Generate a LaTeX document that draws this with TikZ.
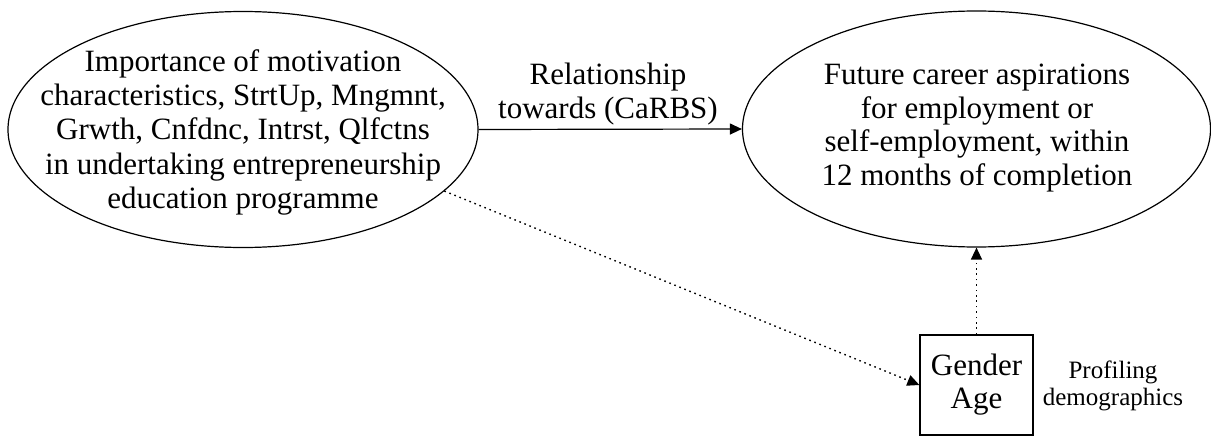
\documentclass[tikz,border=0pt]{standalone}
\usepackage{fontspec}
\setmainfont{Liberation Serif}
\usetikzlibrary{shapes.geometric,arrows.meta}
\begin{document}
\begin{tikzpicture}[x=1pt,y=-1pt,
  oval/.style={draw,ellipse,inner sep=0pt,line width=1.2pt,
    minimum width=470pt,minimum height=236pt},
  ovaltext/.style={align=center,inner sep=0pt},
  boxnode/.style={draw,rectangle,inner sep=0pt,line width=1.3pt,align=center,
    minimum width=113pt,minimum height=100pt,font=\fontsize{31}{33}\selectfont},
  labeltext/.style={align=center,inner sep=0pt},
  tip/.style={-{Triangle[length=12pt,width=11pt]}},
  solidarrow/.style={tip,line width=1.2pt},
  dotarrow/.style={tip,line width=1.4pt,dash pattern=on 1.6pt off 3.8pt}]
\useasboundingbox (0,0) rectangle (1211,436);
\node[oval] (left) at (243,129.5) {};
\node[ovaltext,font=\fontsize{31}{34.3}\selectfont] (lefttext) at (243,132.4) {Importance of motivation\\characteristics, StrtUp, Mngmnt,\\Grwth, Cnfdnc, Intrst, Qlfctns\\in undertaking entrepreneurship\\education programme};
\node[oval,minimum width=468pt] (right) at (976.5,129) {};
\node[ovaltext,font=\fontsize{31}{33.4}\selectfont] (righttext) at (977,128.1) {Future career aspirations\\for employment or\\self-employment, within\\12 months of completion};
\node[boxnode] (box) at (976.5,385) {Gender\\Age};
\node[labeltext,font=\fontsize{31}{34}\selectfont] (rel) at (608,94.2) {Relationship\\towards (CaRBS)};
\node[labeltext,font=\fontsize{25}{27}\selectfont] (prof) at (1113,385.7) {Profiling\\demographics};
\draw[solidarrow] (left.east) -- (right.west);
\draw[dotarrow] (left.-17) -- (box.west);
\draw[dotarrow] (box.north) -- (right.south);
\end{tikzpicture}
\end{document}
